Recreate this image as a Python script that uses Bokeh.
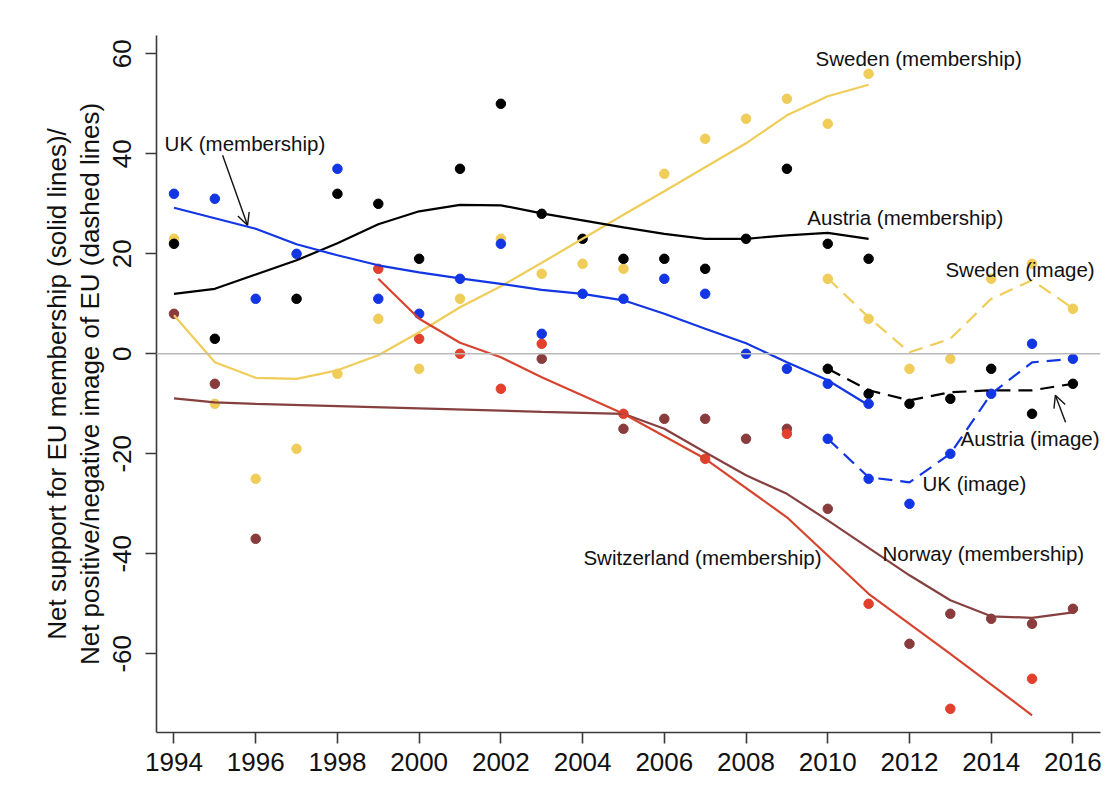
from bokeh.plotting import figure
from bokeh.models import FixedTicker, Span, Label, Arrow, OpenHead
from bokeh.embed import file_html
from bokeh.resources import INLINE

# ---- data -------------------------------------------------------------
uk_years = [1994, 1995, 1996, 1997, 1998, 1999, 2000, 2001, 2002, 2003,
            2004, 2005, 2006, 2007, 2008, 2009, 2010, 2011]
uk_member = [32, 31, 11, 20, 37, 11, 8, 15, 22, 4, 12, 11, 15, 12, 0, -3, -6, -10]
uk_member_fit = [29.2, 27.1, 25.0, 21.9, 19.7, 17.7, 16.3, 15.1, 14.0, 12.8,
                 12.0, 10.7, 8.0, 5.0, 2.1, -1.7, -5.3, -10.3]

at_years = [1994, 1995, 1997, 1998, 1999, 2000, 2001, 2002, 2003, 2004,
            2005, 2006, 2007, 2008, 2009, 2010, 2011]
at_member = [22, 3, 11, 32, 30, 19, 37, 50, 28, 23, 19, 19, 17, 23, 37, 22, 19]
at_member_fit = [12.0, 13.0, 18.7, 22.1, 25.9, 28.5, 29.8, 29.7, 28.1, 26.7,
                 25.3, 24.0, 23.0, 23.0, 23.7, 24.2, 23.0]

se_years = [1994, 1995, 1996, 1997, 1998, 1999, 2000, 2001, 2002, 2003,
            2004, 2005, 2006, 2007, 2008, 2009, 2010, 2011]
se_member = [23, -10, -25, -19, -4, 7, -3, 11, 23, 16, 18, 17, 36, 43, 47, 51, 46, 56]
se_member_fit = [7.7, -1.7, -4.8, -5.0, -3.3, -0.3, 4.3, 9.3, 13.5, 18.2,
                 23.0, 27.8, 32.5, 37.3, 42.1, 47.7, 51.5, 53.8]

ch_years = [1999, 2000, 2001, 2002, 2003, 2005, 2007, 2009, 2011, 2013, 2015]
ch_member = [17, 3, 0, -7, 2, -12, -21, -16, -50, -71, -65]
ch_member_fit = [15.0, 7.0, 2.2, -0.7, -4.7, -12.0, -21.0, -32.7, -48.0, -60.0, -72.3]

no_years = [1994, 1995, 1996, 2003, 2005, 2006, 2007, 2008, 2009, 2010,
            2012, 2013, 2014, 2015, 2016]
no_member = [8, -6, -37, -1, -15, -13, -13, -17, -15, -31, -58, -52, -53, -54, -51]
no_member_fit = [-8.9, -9.7, -10.0, -11.6, -12.0, -15.0, -19.7, -24.3, -28.0,
                 -33.3, -44.3, -49.3, -52.5, -52.8, -51.7]

image_years = [2010, 2011, 2012, 2013, 2014, 2015, 2016]
se_image = [15, 7, -3, -1, 15, 18, 9]
se_image_fit = [15.1, 7.3, 0.3, 3.0, 11.0, 14.7, 9.1]
at_image = [-3, -8, -10, -9, -3, -12, -6]
at_image_fit = [-3.0, -7.3, -9.3, -7.7, -7.3, -7.3, -6.0]
uk_image = [-17, -25, -30, -20, -8, 2, -1]
uk_image_fit = [-17.0, -24.7, -25.7, -20.0, -8.0, -1.7, -1.0]

x_ticks = [1994, 1996, 1998, 2000, 2002, 2004, 2006, 2008, 2010, 2012, 2014, 2016]
y_ticks = [-60, -40, -20, 0, 20, 40, 60]
y_tick_labels = ["-60", "-40", "-20", "0", "20", "40", "60"]

# ---- colours ----------------------------------------------------------
BLUE = "#1236e4"
BLACK = "#000000"
YELLOW = "#efcd58"
RED = "#e23f2c"
RED_LINE = "#d6442f"
MAROON = "#8a3b3c"
MAROON_LINE = "#86403f"

FONT = "Liberation Sans"

p = figure(width=1114, height=807, output_backend="svg", toolbar_location=None,
           x_range=(1993.572, 2016.675), y_range=(-75.74, 63.66),
           min_border_left=156, min_border_right=14, min_border_top=35,
           min_border_bottom=75)
p.outline_line_color = None
p.xgrid.visible = False
p.ygrid.visible = False
p.background_fill_color = "white"
p.border_fill_color = "white"

# zero reference line
p.add_layout(Span(location=0, dimension="width", line_color="#b9b9b9", line_width=1.6))

# ---- scatter points ---------------------------------------------------
DOT = 9.5
p.scatter(se_years, se_member, size=DOT, color=YELLOW)
p.scatter(image_years, se_image, size=DOT, color=YELLOW)
p.scatter(no_years, no_member, size=DOT, color=MAROON)
p.scatter(ch_years, ch_member, size=DOT, color=RED)
p.scatter(at_years, at_member, size=DOT, color=BLACK)
p.scatter(image_years, at_image, size=DOT, color=BLACK)
p.scatter(uk_years, uk_member, size=DOT, color=BLUE)
p.scatter(image_years, uk_image, size=DOT, color=BLUE)

# ---- smoothed lines ---------------------------------------------------
LW = 2.2
p.line(se_years, se_member_fit, color=YELLOW, line_width=LW)
p.line(no_years, no_member_fit, color=MAROON_LINE, line_width=LW)
p.line(ch_years, ch_member_fit, color=RED_LINE, line_width=LW)
p.line(at_years, at_member_fit, color=BLACK, line_width=LW)
p.line(uk_years, uk_member_fit, color=BLUE, line_width=LW)
p.line(image_years, se_image_fit, color=YELLOW, line_width=LW, line_dash="14 8")
p.line(image_years, at_image_fit, color=BLACK, line_width=LW, line_dash="14 8")
p.line(image_years, uk_image_fit, color=BLUE, line_width=LW, line_dash="14 8")

# ---- axes -------------------------------------------------------------
for ax in (p.xaxis, p.yaxis):
    ax.axis_line_color = "#3a3a3a"
    ax.axis_line_width = 1.6
    ax.major_tick_line_color = "#3a3a3a"
    ax.major_tick_line_width = 1.6
    ax.major_tick_in = 0
    ax.major_tick_out = 11
    ax.minor_tick_line_color = None
    ax.major_label_text_font = FONT
    ax.major_label_text_color = "#111111"
    ax.axis_label_text_font = FONT
    ax.axis_label_text_font_style = "normal"
    ax.axis_label_text_color = "#111111"

p.xaxis.ticker = FixedTicker(ticks=x_ticks)
p.xaxis.major_label_text_font_size = "26px"
p.xaxis.major_label_standoff = 9

p.yaxis.ticker = FixedTicker(ticks=y_ticks)
p.yaxis.major_label_overrides = dict(zip(y_ticks, y_tick_labels))
p.yaxis.major_label_orientation = "vertical"
p.yaxis.major_label_text_font_size = "26px"
p.yaxis.major_label_standoff = 14
p.yaxis.axis_label = ("Net support for EU membership (solid lines)/\n"
                      "Net positive/negative image of EU (dashed lines)")
p.yaxis.axis_label_text_font_size = "26px"
p.yaxis.axis_label_standoff = 6
p.yaxis.axis_label_text_line_height = 1.1

# ---- annotations ------------------------------------------------------
def note(x, y, text):
    p.add_layout(Label(x=x, y=y, text=text, text_font=FONT, text_font_size="20.5px",
                       text_color="#111111", text_baseline="middle",
                       text_align="left"))

note(1993.77, 42.0, "UK (membership)")
note(2009.70, 59.1, "Sweden (membership)")
note(2009.50, 27.3, "Austria (membership)")
note(2012.88, 16.9, "Sweden (image)")
note(2013.25, -16.9, "Austria (image)")
note(2012.32, -25.9, "UK (image)")
note(2011.34, -39.9, "Norway (membership)")
note(2004.02, -40.7, "Switzerland (membership)")

p.add_layout(Arrow(end=OpenHead(size=12, line_width=1.4, line_color="#111111"),
                   x_start=1995.19, y_start=39.7, x_end=1995.80, y_end=25.7,
                   line_width=1.4, line_color="#111111"))
p.add_layout(Arrow(end=OpenHead(size=12, line_width=1.4, line_color="#111111"),
                   x_start=2015.82, y_start=-13.7, x_end=2015.57, y_end=-8.3,
                   line_width=1.4, line_color="#111111"))

open("out.html", "w").write(file_html(p, INLINE))
